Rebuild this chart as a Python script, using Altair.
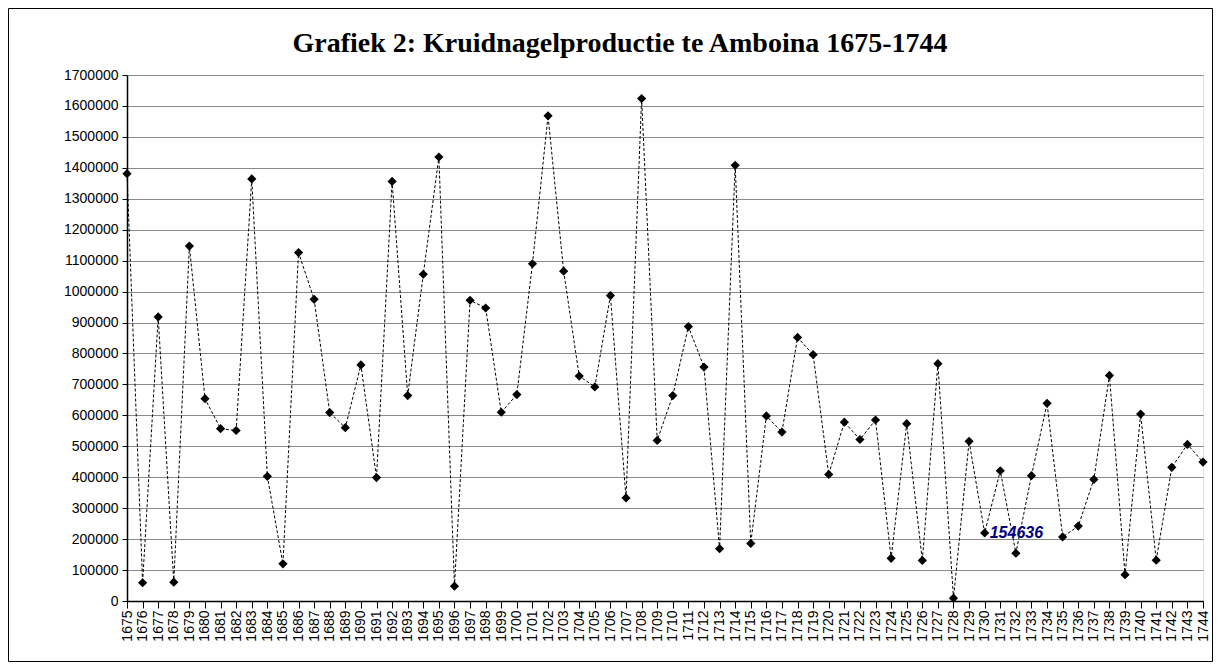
import altair as alt
import pandas as pd

years = list(range(1675, 1745))
production = [
    1381000, 59000, 918000, 61000, 1147000, 654000, 557000, 551000, 1364000, 403000,
    120000, 1126000, 975000, 609000, 560000, 763000, 399000, 1356000, 664000, 1056000,
    1435000, 48000, 972000, 947000, 610000, 667000, 1090000, 1568000, 1066000, 727000,
    692000, 987000, 333000, 1624000, 519000, 664000, 887000, 756000, 169000, 1408000,
    186000, 598000, 546000, 852000, 796000, 409000, 578000, 522000, 585000, 138000,
    573000, 131000, 767000, 9000, 516000, 220000, 421000, 154636, 405000, 639000,
    207000, 242000, 393000, 729000, 85000, 604000, 132000, 432000, 506000, 449000,
]
y_ticks = list(range(0, 1700001, 100000))
title_text = ["Grafiek 2: Kruidnagelproductie te Amboina 1675-1744"]
note_year = [1730]
note_value = [220000]
note_text = ["154636"]

df = pd.DataFrame({"year": years, "value": production})
note_df = pd.DataFrame({"year": note_year, "value": note_value, "label": note_text})
title_df = pd.DataFrame({"t": title_text})

W, H = 1076, 526
PAD_L, PAD_T, PAD_R, PAD_B = 119, 67, 10, 61

x_enc = alt.X(
    "year:O",
    scale=alt.Scale(type="point", padding=0),
    axis=alt.Axis(
        title=None, labelAngle=-90, labelFont="Liberation Sans", labelFontSize=14,
        labelColor="black", tickColor="black", domainColor="black", tickSize=7,
        labelPadding=2, grid=False, labelOverlap=False, domainWidth=1.5,
    ),
)
y_enc = alt.Y(
    "value:Q",
    scale=alt.Scale(domain=[0, 1700000], nice=False),
    axis=alt.Axis(
        title=None, values=y_ticks, format="d", labelFont="Liberation Sans",
        labelFontSize=14, labelColor="black", tickColor="black", domainColor="black",
        tickSize=5, labelPadding=4, grid=True, gridColor="#8a8a8a", gridWidth=1,
        domainWidth=1.5, labelOverlap=False,
    ),
)

border = alt.Chart(pd.DataFrame({"a": [0]})).mark_rect(
    fill=None, stroke="black", strokeWidth=1
).encode(
    x=alt.value(-PAD_L + 0.5), x2=alt.value(W + PAD_R - 0.5),
    y=alt.value(-PAD_T + 0.5), y2=alt.value(H + PAD_B - 0.5),
)

title = alt.Chart(title_df).mark_text(
    align="center", baseline="alphabetic", font="Liberation Serif", fontSize=28,
    fontWeight="bold", color="black",
).encode(x=alt.value(493), y=alt.value(-23), text="t:N")

base = alt.Chart(df)
line = base.mark_line(color="black", strokeWidth=1, strokeDash=[3, 2]).encode(x=x_enc, y=y_enc)
points = base.mark_point(shape="diamond", filled=True, color="black", size=85, opacity=1).encode(
    x=x_enc, y=y_enc
)
note = alt.Chart(note_df).mark_text(
    align="left", baseline="middle", dx=5, font="Liberation Sans", fontSize=16,
    fontWeight="bold", fontStyle="italic", color="#000080",
).encode(x=x_enc, y=y_enc, text="label:N")

chart = alt.layer(line, points, note, border, title).properties(
    width=W, height=H,
    padding={"left": PAD_L, "top": PAD_T, "right": PAD_R, "bottom": PAD_B},
    autosize=alt.AutoSizeParams(type="none"),
).configure_view(stroke=None).configure(background="white")

chart.save("out.html", embed_options={"renderer": "svg", "actions": False})
